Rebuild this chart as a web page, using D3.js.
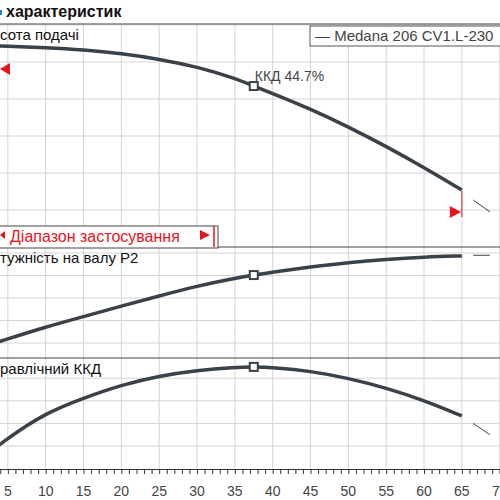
<!DOCTYPE html>
<html><head><meta charset="utf-8">
<script src="https://cdn.jsdelivr.net/npm/d3@7"></script>
<style>body{margin:0;background:#fff}text{font-family:Arial,"Liberation Sans",sans-serif}</style>
</head><body><script>
const width = 500, height = 500

// flow values (x) and curve values, in grid units of each panel
const flow = [0, 5, 10, 15, 20, 25, 30, 35, 37.5, 40, 45, 50, 55, 60, 65]
const head = [5.45, 5.43, 5.39, 5.33, 5.23, 5.08, 4.87, 4.56, 4.35, 4.15, 3.73, 3.25, 2.72, 2.15, 1.54]
const power = [-0.35, 0.18, 0.71, 1.17, 1.64, 2.09, 2.53, 2.88, 3.02, 3.15, 3.38, 3.58, 3.72, 3.82, 3.87]
const eff = [-0.95, 0.36, 1.46, 2.12, 2.7, 3.1, 3.35, 3.48, 3.5, 3.47, 3.32, 3.0, 2.57, 2.02, 1.33]
const extX = [66.5, 68.7]
const headExt = [1.27, 0.95]
const powerExt = [3.9, 3.9]
const effExt = [1.0, 0.5]
const bestX = 37.5
const xTicks = [0, 5, 10, 15, 20, 25, 30, 35, 40, 45, 50, 55, 60, 65, 70]

const x = d3.scaleLinear().domain([0, 70]).range([-30, 499.7])

const panels = [
  {label: "сота подачі", vals: head, ext: headExt, y: d3.scaleLinear().domain([0, 6]).range([247, 25]), grid: [1, 2, 3, 4, 5, 6], top: 24, bottom: 247},
  {label: "тужність на валу  P2", vals: power, ext: powerExt, y: d3.scaleLinear().domain([0, 4]).range([343, 253]), grid: [0, 1, 2, 3, 4], top: 247, bottom: 358},
  {label: "равлічний ККД", vals: eff, ext: effExt, y: d3.scaleLinear().domain([0, 4]).range([446, 355.6]), grid: [0, 1, 2, 3], top: 358, bottom: 469}
]

const svg = d3.select("body").append("svg").attr("width", width).attr("height", height)

const grid = svg.append("g").attr("stroke", "#d4d4d4").attr("stroke-width", 1)
panels.forEach(p => {
  grid.selectAll(null).data(xTicks).join("line")
    .attr("x1", d => x(d)).attr("x2", d => x(d)).attr("y1", p.top).attr("y2", p.bottom)
  grid.selectAll(null).data(p.grid).join("line")
    .attr("x1", 0).attr("x2", width).attr("y1", d => p.y(d)).attr("y2", d => p.y(d))
})

svg.append("g").attr("stroke", "#444").attr("stroke-width", 1.2)
  .selectAll("line").data([24, 247, 358]).join("line")
  .attr("x1", 0).attr("x2", width).attr("y1", d => d).attr("y2", d => d)

const line = d3.line().curve(d3.curveBasis)
panels.forEach(p => {
  svg.append("path").attr("fill", "none").attr("stroke", "#3b4149").attr("stroke-width", 3.5)
    .attr("d", line(flow.map((f, i) => [x(f), p.y(p.vals[i])])))
  svg.append("path").attr("fill", "none").attr("stroke", "#3b4149").attr("stroke-width", 1)
    .attr("d", d3.line()(extX.map((f, i) => [x(f), p.y(p.ext[i])])))
  const i = flow.indexOf(bestX)
  svg.append("rect").attr("x", x(bestX) - 4).attr("y", p.y(p.vals[i]) - 4).attr("width", 8).attr("height", 8)
    .attr("fill", "#fff").attr("stroke", "#3b4149").attr("stroke-width", 2)
  svg.append("text").attr("x", 0).attr("y", p.top + 16).attr("font-size", 15).attr("fill", "#111").text(p.label)
})

svg.append("text").attr("x", x(bestX) + 1).attr("y", 81).attr("font-size", 14).attr("fill", "#444").text("ККД   44.7%")

// title
svg.append("text").attr("x", 6).attr("y", 17).attr("font-size", 16).attr("font-weight", "bold").attr("fill", "#111").text("характеристик")
svg.append("rect").attr("x", 0).attr("y", 10).attr("width", 2).attr("height", 5).attr("fill", "#2a7fd0")

// legend
svg.append("rect").attr("x", 310).attr("y", 26).attr("width", 200).attr("height", 20).attr("fill", "#fff").attr("stroke", "#555")
svg.append("text").attr("x", 315).attr("y", 41).attr("font-size", 15).attr("fill", "#444").text("— Medana 206 CV1.L-230")

// application range
const red = "#e8141b"
svg.append("path").attr("fill", red).attr("d", "M0,69 L10,63 L10,75 Z")
svg.append("path").attr("fill", red).attr("d", `M${x(65) - 12},206 L${x(65) - 1},212 L${x(65) - 12},218 Z`)
svg.append("line").attr("x1", x(65)).attr("x2", x(65)).attr("y1", 191).attr("y2", 217).attr("stroke", red)
svg.append("rect").attr("x", -2).attr("y", 226).attr("width", 220).attr("height", 22).attr("fill", "#fff").attr("stroke", "#444")
svg.append("path").attr("fill", red).attr("d", "M0,235 L5,231 L5,239 Z")
svg.append("text").attr("x", 10).attr("y", 242).attr("font-size", 16).attr("fill", red).text("Діапазон застосування")
svg.append("path").attr("fill", red).attr("d", "M200,230 L210,235 L200,240 Z")
svg.append("line").attr("x1", 214).attr("x2", 214).attr("y1", 226).attr("y2", 247).attr("stroke", red).attr("stroke-width", 1.5)

// x axis
const ax = svg.append("g").attr("transform", "translate(0,469)")
  .call(d3.axisBottom(x).tickValues(d3.range(0, 71, 1)).tickSize(5).tickFormat(""))
ax.select(".domain").attr("stroke", "#333")
ax.selectAll(".tick line").attr("stroke", "#333")
svg.append("g").selectAll("text").data(xTicks).join("text")
  .attr("x", d => x(d)).attr("y", 496).attr("text-anchor", "middle").attr("font-size", 14).attr("fill", "#444").text(d => d)
</script></body></html>
